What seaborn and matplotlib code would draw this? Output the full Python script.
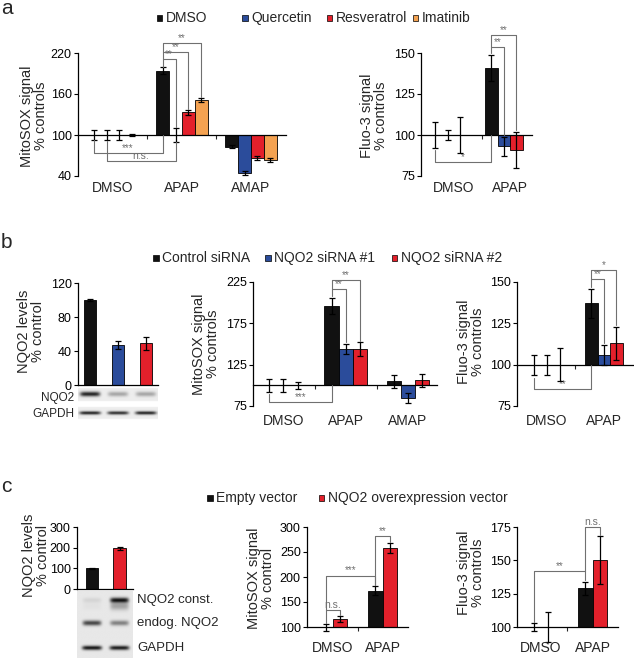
import numpy as np
import pandas as pd
import matplotlib
matplotlib.use("Agg")
import matplotlib.pyplot as plt
import seaborn as sns
from matplotlib.patches import Rectangle
from matplotlib.ticker import FixedLocator

# ---- data ----
nan = np.nan
a_groups = ["DMSO", "APAP", "AMAP"]
a_treats = ["DMSO", "Quercetin", "Resveratrol", "Imatinib"]
a_colors = ["#111111", "#2b4c9b", "#e3202b", "#f4a251"]
a_mito = [[100, 100, 100, 100], [194, 100, 133, 151], [83, 45, 67, 64]]
a_mito_err = [[7, 8, 7, 1], [5, 10, 3, 3], [2, 3, 3, 3]]
a_fluo_groups = ["DMSO", "APAP"]
a_fluo = [[100, 100, 100, nan], [141, 93, 91, nan]]
a_fluo_err = [[8, 3, 11, nan], [8, 6, 11, nan]]

b_treats = ["Control siRNA", "NQO2 siRNA #1", "NQO2 siRNA #2"]
b_colors = ["#111111", "#2b4c9b", "#e3202b"]
b_levels = [100, 47, 49]
b_levels_err = [1, 5, 8]
b_mito = [[100, 100, 100], [196, 144, 144], [105, 85, 106]]
b_mito_err = [[8, 8, 4], [10, 6, 8], [8, 6, 8]]
b_fluo = [[100, 100, 100], [137, 106, 113]]
b_fluo_err = [[6, 6, 10], [9, 6, 10]]
b_blot_nqo2 = [0.85, 0.30, 0.30]
b_blot_gapdh = [0.85, 0.80, 0.85]

c_treats = ["Empty vector", "NQO2 overexpression vector"]
c_colors = ["#111111", "#e3202b"]
c_levels = [100, 197]
c_levels_err = [3, 6]
c_mito = [[100, 116], [173, 258]]
c_mito_err = [[7, 6], [9, 10]]
c_fluo = [[100, 100], [129, 150]]
c_fluo_err = [[3, 11], [5, 18]]
c_blot_const = [0.08, 0.90]
c_blot_smear = [0.03, 0.30]
c_blot_endog = [0.70, 0.45]
c_blot_gapdh = [0.90, 0.88]

W, H = 634, 658
sns.set_style("ticks")
plt.rcParams["font.family"] = ["Liberation Sans", "DejaVu Sans"]
fig = plt.figure(figsize=(W / 100, H / 100), dpi=100)


def px_ax(l, t, r, b):
    return fig.add_axes([l / W, 1 - b / H, (r - l) / W, (b - t) / H])


def ftext(x, y, s, **kw):
    fig.text(x / W, 1 - y / H, s, **kw)


def style_axis(ax, base, ylim, yticks, xlim, spine_at):
    ax.set_xlim(xlim)
    ax.set_ylim(ylim[0] - base, ylim[1] - base)
    ax.set_yticks([t - base for t in yticks])
    ax.set_yticklabels([str(t) for t in yticks])
    ax.set_xticks([])
    ax.set_xlabel("")
    ax.set_ylabel("")
    for s in ["top", "right"]:
        ax.spines[s].set_visible(False)
    ax.spines["bottom"].set_position(("data", spine_at - base))
    for s in ["left", "bottom"]:
        ax.spines[s].set_linewidth(0.9)
        ax.spines[s].set_color("black")
    ax.tick_params(axis="y", labelsize=9, length=3, width=0.8, pad=1.5, colors="black")
    ax.patch.set_alpha(0)


def errbars(ax, x, y, e):
    ax.errorbar(x, y, yerr=e, fmt="none", ecolor="black", elinewidth=0.9,
                capsize=2, capthick=0.9, zorder=5, clip_on=False)


def group_panel(ax, groups, treats, vals, errs, colors, width, base, ylim, yticks, xlim, cat_y):
    rows = []
    for g, vrow in zip(groups, vals):
        for t, v in zip(treats, vrow):
            if not np.isnan(v):
                rows.append((g, t, v - base))
    df = pd.DataFrame(rows, columns=["group", "treat", "delta"])
    sns.barplot(data=df, x="group", y="delta", hue="treat", order=groups, hue_order=treats,
                palette=colors, width=width, errorbar=None, edgecolor="black", linewidth=0.6,
                saturation=1, legend=False, ax=ax)
    n = len(treats)
    offs = [-width / 2 + width / n * (i + 0.5) for i in range(n)]
    for gi in range(len(groups)):
        for ti in range(n):
            v, e = vals[gi][ti], errs[gi][ti]
            if np.isnan(v):
                continue
            errbars(ax, gi + offs[ti], v - base, e)
    style_axis(ax, base, ylim, yticks, xlim, base)
    ax.xaxis.set_minor_locator(FixedLocator([i + 0.5 for i in range(len(groups) - 1)]))
    ax.tick_params(axis="x", which="minor", length=3, width=0.8, direction="out")
    for gi, g in enumerate(groups):
        x_fig = fig.transFigure.inverted().transform(ax.transData.transform((gi, 0)))[0]
        fig.text(x_fig, 1 - cat_y / H, g, ha="center", va="center", fontsize=10)
    return offs


def bracket(ax, base, x1, y1, x2, y2, ylev, s, fs=7):
    ax.plot([x1, x1, x2, x2], [y1 - base, ylev - base, ylev - base, y2 - base],
            color="#707070", lw=0.8, clip_on=False, zorder=6)
    ax.text((x1 + x2) / 2, ylev - base, s, ha="center", va="bottom", fontsize=fs,
            color="#707070", clip_on=False)


def blot(ax, lanes, xlim, hpx, rows, bg, strips=None):
    xs = np.linspace(xlim[0], xlim[1], 240)
    ys = np.linspace(0, hpx, 160)
    X, Y = np.meshgrid(xs, ys)
    img = np.ones_like(X)
    if strips is None:
        img[:] = bg
    else:
        for y0, y1 in strips:
            img[(Y >= y0) & (Y <= y1)] = bg
    dark = np.zeros_like(X)
    for yc, sy, hw, ints in rows:
        for lx, a in zip(lanes, ints):
            dark += a * np.exp(-((X - lx) / hw) ** 6) * np.exp(-((Y - yc) / sy) ** 2)
    img = img * (1 - np.clip(dark, 0, 0.95))
    ax.imshow(img, cmap="gray", vmin=0, vmax=1, aspect="auto", interpolation="bilinear",
              extent=(xlim[0], xlim[1], hpx, 0))
    ax.set_xlim(xlim)
    ax.set_ylim(hpx, 0)
    ax.set_axis_off()


def legend_item(xsq, y, color, label):
    fig.add_artist(Rectangle((xsq / W, 1 - (y + 2.5) / H), 5.5 / W, 5.5 / H,
                             transform=fig.transFigure, facecolor=color,
                             edgecolor="black", lw=0.5))
    ftext(xsq + 9, y, label, va="center", fontsize=10)


# ================= panel a =================
ftext(1, 9, "a", fontsize=15, va="center")
for xs, c, t in zip([157, 242, 327, 413], a_colors, a_treats):
    legend_item(xs, 18, c, t)

ax = px_ax(78, 53, 285.5, 176)
offs = group_panel(ax, a_groups, a_treats, a_mito, a_mito_err, a_colors, 0.75, 100,
                   (40, 220), [40, 100, 160, 220], (-0.507, 2.5), 188)
x_b = 1 + offs[0]
bracket(ax, 100, x_b, 200, 1 + offs[1], 112, 211, "**")
bracket(ax, 100, x_b, 211, 1 + offs[2], 138, 221, "**")
bracket(ax, 100, x_b, 221, 1 + offs[3], 156, 235, "**")
bracket(ax, 100, offs[0], 92, x_b, 100, 74, "***")
bracket(ax, 100, offs[1], 91, 1 + offs[1], 90, 62, "n.s.", fs=7.5)
ftext(34, 116, "MitoSOX signal\n% controls", rotation=90, ha="center", va="center",
      fontsize=10.5, linespacing=0.95)

ax = px_ax(421, 53, 532, 176)
offs = group_panel(ax, a_fluo_groups, a_treats, a_fluo, a_fluo_err, a_colors, 0.9, 100,
                   (75, 150), [75, 100, 125, 150], (-0.59, 1.39), 188)
x_b = 1 + offs[0]
bracket(ax, 100, x_b, 150, 1 + offs[1], 100, 153.5, "**")
bracket(ax, 100, x_b, 153.5, 1 + offs[2], 103, 161, "**")
bracket(ax, 100, offs[0], 91, x_b, 100, 83.5, "*")
ftext(374, 116, "Fluo-3 signal\n% controls", rotation=90, ha="center", va="center",
      fontsize=10.5, linespacing=0.95)

# ================= panel b =================
ftext(1, 243, "b", fontsize=15, va="center")
for xs, c, t in zip([153, 265, 392], b_colors, b_treats):
    legend_item(xs, 258, c, t)

ax = px_ax(78, 283, 158, 385)
sns.barplot(x=b_treats, y=b_levels, hue=b_treats, palette=b_colors, width=0.46,
            edgecolor="black", linewidth=0.6, saturation=1, legend=False, ax=ax)
errbars(ax, range(3), b_levels, b_levels_err)
style_axis(ax, 0, (0, 120), [0, 40, 80, 120], (-0.43, 2.43), 0)
ftext(31, 331, "NQO2 levels\n% control", rotation=90, ha="center", va="center",
      fontsize=10.5, linespacing=0.95)

ax = px_ax(78, 387, 158, 421)
blot(ax, [0, 1, 2], (-0.43, 2.43), 34,
     [(7, 2.4, 0.36, b_blot_nqo2), (26, 1.7, 0.38, b_blot_gapdh)], 0.93,
     strips=[(1, 14), (20, 32)])
ftext(74, 398, "NQO2", ha="right", va="center", fontsize=8.5)
ftext(74, 414, "GAPDH", ha="right", va="center", fontsize=8.5)

ax = px_ax(253, 282, 437, 406)
offs = group_panel(ax, a_groups, b_treats, b_mito, b_mito_err, b_colors, 0.68, 100,
                   (75, 225), [75, 125, 175, 225], (-0.49, 2.47), 421)
x_b = 1 + offs[0]
bracket(ax, 100, x_b, 208, 1 + offs[1], 152, 217, "**")
bracket(ax, 100, x_b, 217, 1 + offs[2], 154, 227, "**")
bracket(ax, 100, offs[0], 90, x_b, 100, 80, "***")
ftext(206, 344, "MitoSOX signal\n% controls", rotation=90, ha="center", va="center",
      fontsize=10.5, linespacing=0.95)

ax = px_ax(517, 282, 633, 406)
offs = group_panel(ax, a_fluo_groups, b_treats, b_fluo, b_fluo_err, b_colors, 0.66, 100,
                   (75, 150), [75, 100, 125, 150], (-0.526, 1.51), 421)
x_b = 1 + offs[0]
bracket(ax, 100, x_b, 147, 1 + offs[1], 113, 152, "**")
bracket(ax, 100, x_b, 152, 1 + offs[2], 124, 157, "*")
bracket(ax, 100, offs[0], 92, x_b, 100, 85, "**")
ftext(471, 342, "Fluo-3 signal\n% controls", rotation=90, ha="center", va="center",
      fontsize=10.5, linespacing=0.95)

# ================= panel c =================
ftext(1, 487, "c", fontsize=15, va="center")
legend_item(207, 498, c_colors[0], c_treats[0])
legend_item(319, 498, c_colors[1], c_treats[1])

ax = px_ax(77, 527, 133, 589)
sns.barplot(x=c_treats, y=c_levels, hue=c_treats, palette=c_colors, width=0.47,
            edgecolor="black", linewidth=0.6, saturation=1, legend=False, ax=ax)
errbars(ax, range(2), c_levels, c_levels_err)
style_axis(ax, 0, (0, 300), [0, 100, 200, 300], (-0.545, 1.49), 0)
ftext(36, 555, "NQO2 levels\n% control", rotation=90, ha="center", va="center",
      fontsize=10.5, linespacing=0.95)

ax = px_ax(77, 591, 133, 658)
blot(ax, [0, 1], (-0.545, 1.49), 67,
     [(9, 2.6, 0.34, c_blot_const), (15, 4.0, 0.34, c_blot_smear),
      (32, 2.6, 0.34, c_blot_endog), (57, 2.2, 0.36, c_blot_gapdh)], 0.91)
ftext(137, 600, "NQO2 const.", ha="left", va="center", fontsize=9.5)
ftext(137, 623, "endog. NQO2", ha="left", va="center", fontsize=9.5)
ftext(137, 648, "GAPDH", ha="left", va="center", fontsize=9.5)

ax = px_ax(307, 527, 408, 627)
offs = group_panel(ax, a_fluo_groups, c_treats, c_mito, c_mito_err, c_colors, 0.57, 100,
                   (100, 300), [100, 150, 200, 250, 300], (-0.525, 1.515), 648)
bracket(ax, 100, offs[0], 108, offs[1], 124, 134, "n.s.", fs=7.5)
bracket(ax, 100, offs[0], 134, 1 + offs[0], 184, 203, "***")
bracket(ax, 100, 1 + offs[0], 184, 1 + offs[1], 270, 282, "**")
ftext(261, 578, "MitoSOX signal\n% control", rotation=90, ha="center", va="center",
      fontsize=10.5, linespacing=0.95)

ax = px_ax(517, 527, 618, 627)
offs = group_panel(ax, a_fluo_groups, c_treats, c_fluo, c_fluo_err, c_colors, 0.57, 100,
                   (100, 175), [100, 125, 150, 175], (-0.466, 1.495), 648)
bracket(ax, 100, offs[0], 104, 1 + offs[0], 135, 142, "**")
bracket(ax, 100, 1 + offs[0], 142, 1 + offs[1], 169, 175, "n.s.", fs=7.5)
ftext(471, 573, "Fluo-3 signal\n% controls", rotation=90, ha="center", va="center",
      fontsize=10.5, linespacing=0.95)

fig.savefig("out.png", dpi=100)
